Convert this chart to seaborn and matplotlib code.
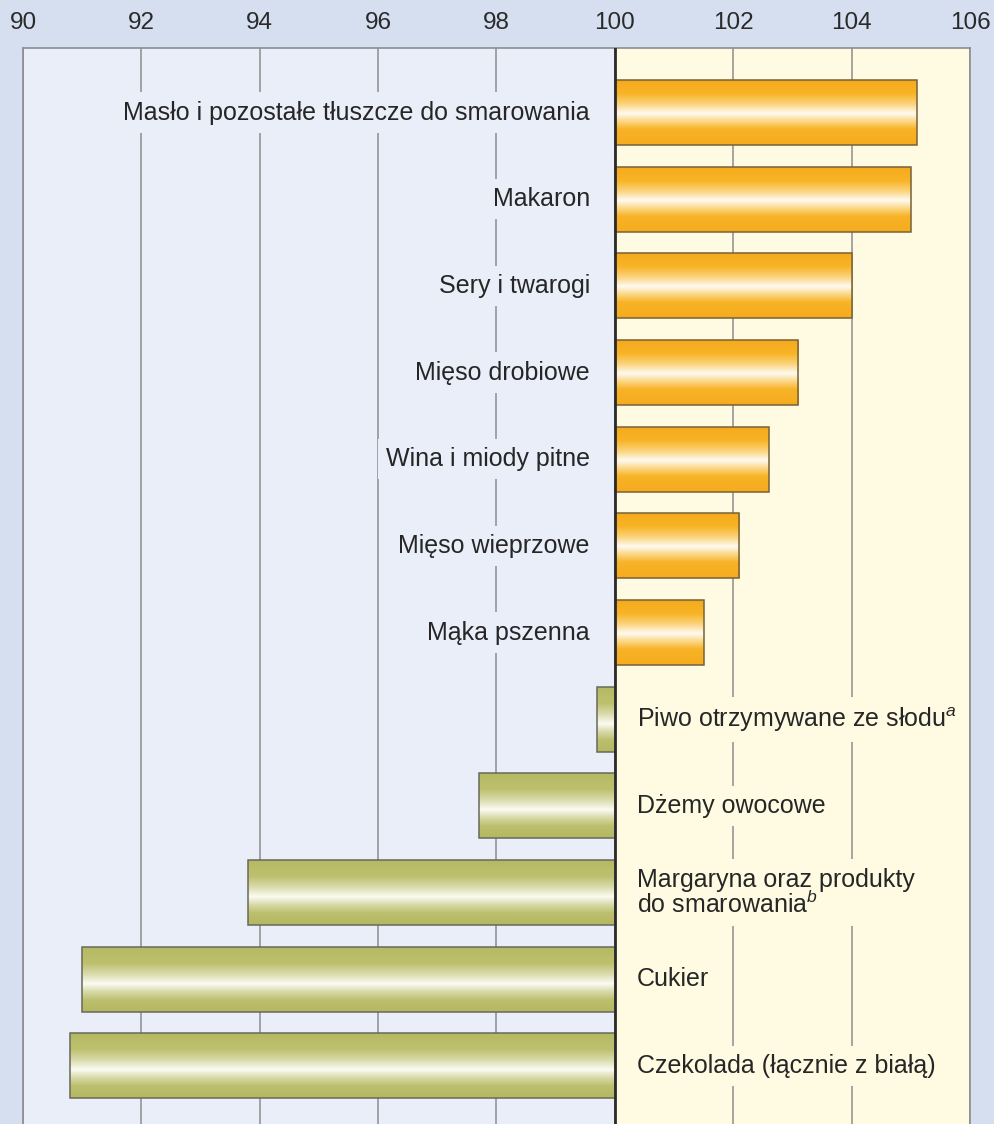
import numpy as np
import matplotlib
matplotlib.use("Agg")
import matplotlib.pyplot as plt
import seaborn as sns
import pandas as pd
from matplotlib.colors import LinearSegmentedColormap

# Price index (previous year = 100)
categories = [
    "Masło i pozostałe tłuszcze do smarowania",
    "Makaron",
    "Sery i twarogi",
    "Mięso drobiowe",
    "Wina i miody pitne",
    "Mięso wieprzowe",
    "Mąka pszenna",
    "Piwo otrzymywane ze słodu$^{a}$",
    "Dżemy owocowe",
    "Margaryna oraz produkty\ndo smarowania$^{b}$",
    "Cukier",
    "Czekolada (łącznie z białą)",
]
values = [105.1, 105.0, 104.0, 103.1, 102.6, 102.1, 101.5, 99.7, 97.7, 93.8, 91.0, 90.8]
tick_values = [90, 92, 94, 96, 98, 100, 102, 104, 106]
base = 100

fig_bg = "#d5dff0"
left_bg = "#eaeef9"
right_bg = "#fffbe2"
grid_col = "#8d8d8d"

sns.set_theme(style="white")
plt.rcParams["font.family"] = ["Liberation Sans", "DejaVu Sans"]
plt.rcParams["mathtext.fontset"] = "custom"
plt.rcParams["mathtext.rm"] = "Liberation Sans"
plt.rcParams["mathtext.it"] = "Liberation Sans:italic"

W, H = 995, 1124
fig = plt.figure(figsize=(W / 100, H / 100), dpi=100, facecolor=fig_bg)
ax = fig.add_axes([23 / W, 0, 947 / W, (H - 48) / H])
ax.set_facecolor(left_bg)

df = pd.DataFrame({
    "category": categories,
    "change": [v - base for v in values],
})
df["kind"] = np.where(df["change"] >= 0, "up", "down")

sns.barplot(data=df, x="change", y="category", hue="kind",
            palette={"up": "#f7b020", "down": "#bcbf6a"},
            dodge=False, width=0.75, legend=False, ax=ax,
            edgecolor="#6a5d45", linewidth=1.1, saturation=1)
bar_patches = [p for p in ax.patches if abs(p.get_width()) > 0]

# Glossy gradients for the bars (top to bottom)
orange_cmap = LinearSegmentedColormap.from_list("glossy_orange", [
    (0.00, "#f5a91c"), (0.22, "#f8b426"), (0.38, "#fbd47e"),
    (0.52, "#fffbf2"), (0.63, "#fcda8e"), (0.76, "#f8b327"), (1.00, "#f6ab1e"),
])
green_cmap = LinearSegmentedColormap.from_list("glossy_green", [
    (0.00, "#b6b963"), (0.26, "#bdc06d"), (0.42, "#d9dbab"),
    (0.57, "#fbfbf3"), (0.69, "#d9daa9"), (0.82, "#bcbf6c"), (1.00, "#b5b762"),
])
grad = np.linspace(0, 1, 256).reshape(-1, 1)

for patch in bar_patches:
    bb = patch.get_bbox()
    x0, x1 = sorted([bb.x0, bb.x1])
    y0, y1 = sorted([bb.y0, bb.y1])
    rising = x1 > 0
    cmap = orange_cmap if rising else green_cmap
    im = ax.imshow(grad, cmap=cmap, extent=(x0, x1, y1, y0), origin="upper",
                   aspect="auto", interpolation="bicubic", zorder=2)
    im.set_clip_path(patch)
    patch.set_facecolor("none")
    patch.set_edgecolor("#76623a" if rising else "#67695a")
    patch.set_zorder(3)

# Background halves
ax.axvspan(-10, 0, color=left_bg, zorder=0, lw=0)
ax.axvspan(0, 6, color=right_bg, zorder=0, lw=0)

ax.set_xlim(-10, 6)
ax.set_ylim(11.67, -0.745)

# Reference line at 100
ax.axvline(0, color="#2b2b2b", lw=2.0, zorder=4)

# Category labels beside the bars
for i, (cat, ch) in enumerate(zip(categories, df["change"])):
    if ch >= 0:
        ax.annotate(cat, xy=(0, i), xytext=(-18, 0), textcoords="offset points",
                    ha="right", va="center", fontsize=18, color="#262626",
                    bbox=dict(fc=left_bg, ec="none", pad=6), zorder=2.5)
    else:
        ax.annotate(cat, xy=(0, i), xytext=(16, 0), textcoords="offset points",
                    ha="left", va="center", fontsize=18, color="#262626",
                    linespacing=0.95,
                    bbox=dict(fc=right_bg, ec="none", pad=6), zorder=2.5)

ax.set_ylabel("")
ax.set_xlabel("")
ax.set_yticks([])
ax.xaxis.tick_top()
ax.set_xticks([t - base for t in tick_values])
ax.set_xticklabels([str(t) for t in tick_values])
ax.tick_params(axis="x", length=0, pad=10, labelsize=17.5, labelcolor="#2a2a2a")
ax.grid(axis="x", color=grid_col, lw=1.1)
ax.grid(axis="y", visible=False)
ax.set_axisbelow(True)

for side in ["left", "top", "right"]:
    ax.spines[side].set_visible(True)
    ax.spines[side].set_color(grid_col)
    ax.spines[side].set_linewidth(1.2)
ax.spines["bottom"].set_visible(False)

fig.savefig("out.png", dpi=100, facecolor=fig_bg)
